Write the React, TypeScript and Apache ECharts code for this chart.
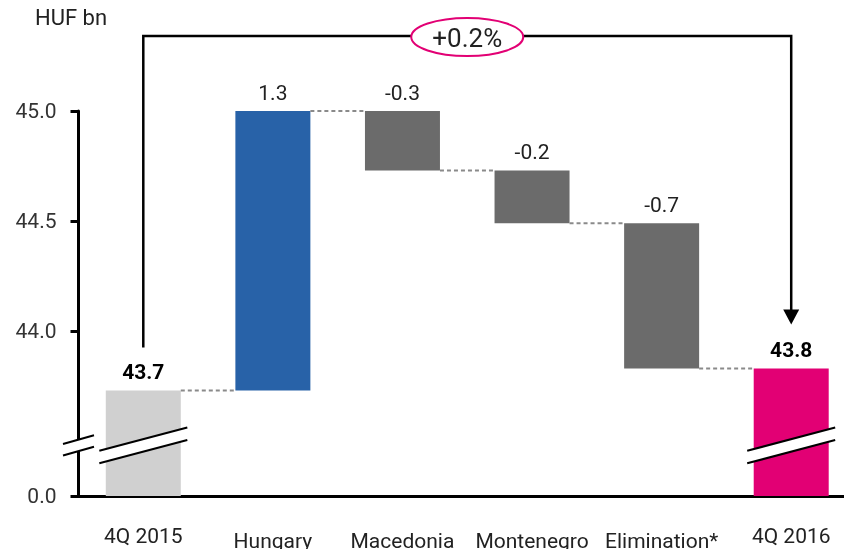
import React, { useEffect, useRef } from 'react';
import * as echarts from 'echarts';

const categories = ['4Q 2015', 'Hungary', 'Macedonia', 'Montenegro', 'Elimination*', '4Q 2016'];
const changes = [43.73, 1.27, -0.27, -0.24, -0.66, 43.83];
const valueLabels = ['43.7', '1.3', '-0.3', '-0.2', '-0.7', '43.8'];
const totalIdx = [0, 5];
const barColors = ['#d0d0d0', '#2862a8', '#6b6b6b', '#6b6b6b', '#6b6b6b', '#e20074'];
const yTickValues = [43.25, 44.0, 44.5, 45.0];
const yTickLabels = ['0.0', '44.0', '44.5', '45.0'];
const growthLabel = '+0.2%';
const unitLabel = 'HUF bn';
const axisMin = 43.25;
const axisMax = 45.0;
const breakValue = 43.48;

const FONT = 'Roboto, "Open Sans", sans-serif';
const BAR_W = 75;

export default function App() {
  const ref = useRef<HTMLDivElement>(null);
  useEffect(() => {
    if (!ref.current) return;
    const chart = echarts.init(ref.current, undefined, { renderer: 'svg' });

    const base: number[] = [];
    const vis: number[] = [];
    const levels: number[] = [];
    let level = 0;
    changes.forEach((c, i) => {
      if (totalIdx.includes(i)) {
        base.push(0);
        vis.push(c);
        level = c;
      } else {
        const s = level;
        const e = level + c;
        base.push(Math.min(s, e));
        vis.push(Math.abs(c));
        level = e;
      }
      levels.push(level);
    });

    const items = vis.map((v, i) => {
      const total = totalIdx.includes(i);
      return {
        value: v,
        itemStyle: { color: barColors[i] },
        label: {
          color: total ? '#000' : '#222',
          fontWeight: total ? 'bold' : 'normal',
        },
      };
    });

    chart.setOption({
      animation: false,
      grid: { left: 78.5, right: 0, top: 111, bottom: 53, containLabel: false, outerBoundsMode: 'none' },
      xAxis: {
        type: 'category',
        data: categories,
        axisLine: { lineStyle: { color: '#000', width: 3 } },
        axisTick: { show: false },
        axisLabel: {
          interval: 0,
          margin: 29,
          formatter: (v: string, i: number) => (totalIdx.includes(i) ? `{o|${v}}` : `{m|${v}}`),
          rich: {
            o: { fontSize: 21, color: '#222', fontFamily: FONT },
            m: { fontSize: 21, color: '#222', fontFamily: FONT, padding: [5, 0, 0, 0] },
          },
        },
      },
      yAxis: {
        type: 'value',
        min: axisMin,
        max: axisMax,
        splitLine: { show: false },
        axisLine: { show: true, lineStyle: { color: '#000', width: 3 } },
        axisTick: { show: true, length: 8, lineStyle: { color: '#000', width: 3 }, customValues: yTickValues },
        axisLabel: {
          customValues: yTickValues,
          margin: 22,
          fontSize: 21,
          color: '#333',
          fontFamily: FONT,
          formatter: (v: number) => {
            const k = yTickValues.findIndex((t) => Math.abs(t - v) < 1e-6);
            return k >= 0 ? yTickLabels[k] : '';
          },
        },
      },
      series: [
        {
          type: 'bar',
          stack: 'w',
          data: base,
          barWidth: BAR_W,
          silent: true,
          itemStyle: { color: 'transparent' },
        },
        {
          type: 'bar',
          stack: 'w',
          data: items,
          barWidth: BAR_W,
          label: {
            show: true,
            position: 'top',
            distance: 8,
            fontSize: 21,
            fontFamily: FONT,
            formatter: (p: any) => valueLabels[p.dataIndex],
          },
        },
      ],
    });

    const px = (i: number, v: number) => chart.convertToPixel({ gridIndex: 0 }, [i, v]) as number[];
    const cx = categories.map((_, i) => px(i, axisMin)[0]);
    const band = cx[1] - cx[0];
    const axisX = cx[0] - band / 2;
    const half = BAR_W / 2;
    const yOf = (v: number) => px(0, v)[1];

    const els: any[] = [];
    for (let i = 0; i < categories.length - 1; i++) {
      const y = yOf(levels[i]);
      els.push({
        type: 'line',
        z: 50,
        shape: { x1: cx[i] + half, y1: y, x2: cx[i + 1] - half, y2: y },
        style: { stroke: '#8a8a8a', lineWidth: 2, lineDash: [4, 3] },
      });
    }
    const breakMark = (x: number, hw: number, cy: number, slope: number, gap: number) => {
      const ul = [x - hw, cy - gap / 2 + slope * hw];
      const ur = [x + hw, cy - gap / 2 - slope * hw];
      const lr = [x + hw, cy + gap / 2 - slope * hw];
      const ll = [x - hw, cy + gap / 2 + slope * hw];
      els.push({ type: 'polygon', z: 60, shape: { points: [ul, ur, lr, ll] }, style: { fill: '#fff' } });
      els.push({ type: 'line', z: 61, shape: { x1: ul[0], y1: ul[1], x2: ur[0], y2: ur[1] }, style: { stroke: '#000', lineWidth: 2 } });
      els.push({ type: 'line', z: 61, shape: { x1: ll[0], y1: ll[1], x2: lr[0], y2: lr[1] }, style: { stroke: '#000', lineWidth: 2 } });
    };
    const by = yOf(breakValue);
    totalIdx.forEach((i) => breakMark(cx[i], 44, by, 0.265, 12.5));
    breakMark(axisX, 15.5, by, 0.28, 11.5);

    const a = totalIdx[0];
    const b = totalIdx[1];
    const topY = 36;
    const leftEnd = yOf(levels[a]) - 43;
    const tipY = yOf(levels[b]) - 44;
    const headH = 15;
    els.push({
      type: 'polyline',
      z: 70,
      shape: { points: [[cx[a], leftEnd], [cx[a], topY], [cx[b], topY], [cx[b], tipY - headH + 1]] },
      style: { stroke: '#000', lineWidth: 2.5, fill: null },
    });
    els.push({
      type: 'polygon',
      z: 70,
      shape: { points: [[cx[b] - 8, tipY - headH], [cx[b] + 8, tipY - headH], [cx[b], tipY]] },
      style: { fill: '#000' },
    });
    const mx = (cx[a] + cx[b]) / 2;
    els.push({
      type: 'ellipse',
      z: 80,
      shape: { cx: mx, cy: 37, rx: 56, ry: 19 },
      style: { fill: '#fff', stroke: '#e20074', lineWidth: 2 },
    });
    els.push({
      type: 'text',
      z: 81,
      x: mx,
      y: 38,
      style: { text: growthLabel, fontSize: 26, fontFamily: FONT, fill: '#222', align: 'center', verticalAlign: 'middle' },
    });
    els.push({
      type: 'text',
      z: 81,
      x: 35,
      y: 6,
      style: { text: unitLabel, fontSize: 22, fontFamily: FONT, fill: '#222', align: 'left', verticalAlign: 'top' },
    });

    chart.setOption({ graphic: { elements: els } });

    return () => chart.dispose();
  }, []);
  return (
    <div style={{ position: 'fixed', left: 0, top: 0, width: 844, height: 549, overflow: 'hidden' }}>
      <div ref={ref} style={{ width: 856, height: 549 }} />
    </div>
  );
}
